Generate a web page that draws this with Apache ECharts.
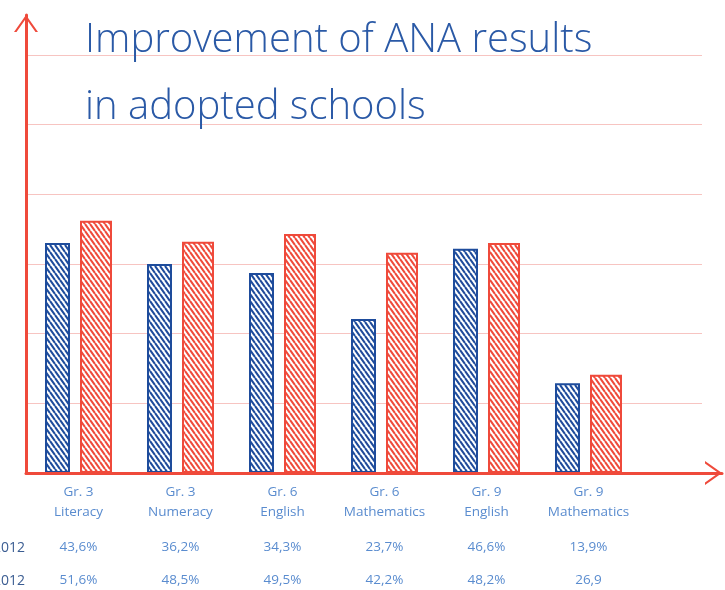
<!DOCTYPE html>
<html><head><meta charset="utf-8">
<script src="https://cdn.jsdelivr.net/npm/echarts@6/dist/echarts.min.js"></script>
<style>html,body{margin:0;padding:0;background:#fff}#c{width:725px;height:590px}</style>
</head><body><div id="c"></div>
<script>
const titleLines = ['Improvement of ANA results', 'in adopted schools'];
const categories = ['Gr. 3\nLiteracy', 'Gr. 3\nNumeracy', 'Gr. 6\nEnglish', 'Gr. 6\nMathematics', 'Gr. 9\nEnglish', 'Gr. 9\nMathematics'];
const rowLabels = ['2012', '2012'];
const row1Text = ['43,6%', '36,2%', '34,3%', '23,7%', '46,6%', '13,9%'];
const row2Text = ['51,6%', '48,5%', '49,5%', '42,2%', '48,2%', '26,9'];
// bar heights as drawn in the picture (in gridline units, 10 per gridline)
const blueBars = [33.0, 30.0, 28.7, 22.1, 32.2, 12.9];
const redBars = [36.2, 33.2, 34.3, 31.6, 33.0, 14.1];
const gridTicks = [0, 60, 10];

const BLUE = '#1e4c9c', RED = '#ef4a3b', LABEL = '#5a8ccf', GRIDC = '#f7c4c1';

function hatch(color) {
  const w = 5, h = 7;
  const c = document.createElement('canvas');
  c.width = w; c.height = h;
  const g = c.getContext('2d');
  g.fillStyle = '#fff'; g.fillRect(0, 0, w, h);
  g.strokeStyle = color; g.lineWidth = 2.1;
  g.beginPath();
  for (const o of [-w, 0, w]) { g.moveTo(o, 0); g.lineTo(o + w, h); }
  g.stroke();
  return { image: c, repeat: 'repeat' };
}

const chevron = 'path://M0,17 L12,0 L24,17 L21.5,17 L12,3.6 L2.5,17 Z';
const labelFont = { fontFamily: 'Open Sans', fontSize: 13.5, color: LABEL };
const titleFont = { fontFamily: 'Open Sans', fontWeight: 300, fontSize: 40, color: '#2a59a6' };

const chart = echarts.init(document.getElementById('c'), null, { renderer: 'canvas' });
chart.setOption({
  animation: false,
  backgroundColor: '#fff',
  title: [
    { text: titleLines[0], left: 80, top: 16, textStyle: titleFont },
    { text: titleLines[1], left: 80, top: 83, textStyle: titleFont }
  ],
  graphic: rowLabels.map((t, i) => ({
    type: 'text', x: 25, y: i === 0 ? 548 : 581,
    style: { text: t, align: 'right', verticalAlign: 'middle', textAlign: 'right', textVerticalAlign: 'middle', fill: '#3b5d92', font: '14px "Open Sans"' }
  })),
  grid: [
    { left: 27.5, width: 612, top: 55, bottom: 117 },
    { left: 26, right: 23, top: 55, bottom: 117 },
    { left: 26, right: 3, top: 15, bottom: 117 }
  ],
  xAxis: [
    { type: 'category', gridIndex: 0, data: categories, axisLine: { show: false }, axisTick: { show: false },
      axisLabel: Object.assign({ margin: 9, lineHeight: 20, interval: 0 }, labelFont) },
    { type: 'category', gridIndex: 0, data: row1Text, position: 'bottom', offset: 59.5, axisLine: { show: false }, axisTick: { show: false },
      axisLabel: Object.assign({ margin: 8, interval: 0 }, labelFont) },
    { type: 'category', gridIndex: 0, data: row2Text, position: 'bottom', offset: 92.5, axisLine: { show: false }, axisTick: { show: false },
      axisLabel: Object.assign({ margin: 8, interval: 0 }, labelFont) },
    { type: 'value', gridIndex: 1, min: 0, max: 1, show: false },
    { type: 'value', gridIndex: 2, min: 0, max: 1, z: 10,
      axisLine: { show: true, onZero: false, symbol: ['none', chevron], symbolSize: [24, 17], symbolOffset: [0, -8.5], lineStyle: { color: RED, width: 3 } },
      axisTick: { show: false }, axisLabel: { show: false }, splitLine: { show: false } }
  ],
  yAxis: [
    { type: 'value', gridIndex: 0, min: gridTicks[0], max: gridTicks[1], interval: gridTicks[2], show: false },
    { type: 'value', gridIndex: 1, min: gridTicks[0], max: gridTicks[1], interval: gridTicks[2],
      axisLine: { show: false }, axisTick: { show: false }, axisLabel: { show: false },
      splitLine: { show: true, lineStyle: { color: GRIDC, width: 1.2 } } },
    { type: 'value', gridIndex: 2, min: 0, max: 1, z: 10,
      axisLine: { show: true, onZero: false, symbol: ['none', chevron], symbolSize: [24, 17], symbolOffset: [0, -8.5], lineStyle: { color: RED, width: 3 } },
      axisTick: { show: false }, axisLabel: { show: false }, splitLine: { show: false } }
  ],
  series: [
    { type: 'bar', xAxisIndex: 0, yAxisIndex: 0, data: blueBars, barWidth: 25, barGap: '40%', z: 3,
      itemStyle: { color: hatch(BLUE), borderColor: BLUE, borderWidth: 2 } },
    { type: 'bar', xAxisIndex: 0, yAxisIndex: 0, data: redBars, barWidth: 32, barGap: '40%', z: 3,
      itemStyle: { color: hatch(RED), borderColor: RED, borderWidth: 2 } }
  ]
});
</script>
</body></html>
